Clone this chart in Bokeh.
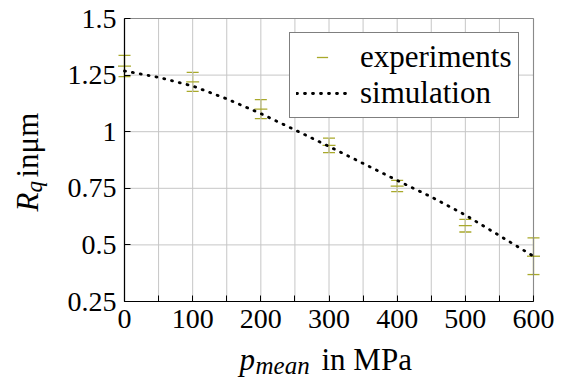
import numpy as np
from bokeh.plotting import figure
from bokeh.models import (Whisker, ColumnDataSource, Label, Legend, LegendItem,
                          FixedTicker, Range1d, TeeHead, BoxAnnotation)
from bokeh.embed import file_html
from bokeh.resources import INLINE

# ---- data ----
pressure = [0, 100, 200, 300, 400, 500, 600]
rq_exp = [1.29, 1.22, 1.10, 0.94, 0.76, 0.585, 0.45]
rq_err = [0.047, 0.042, 0.042, 0.032, 0.025, 0.028, 0.081]

sim_p = [0, 50, 100, 150, 200, 250, 300, 350, 400, 450, 500, 550, 600]
sim_rq = [1.268, 1.24, 1.202, 1.145, 1.08, 1.008, 0.935, 0.86, 0.785, 0.712, 0.632, 0.541, 0.45]

x_ticks = [0, 100, 200, 300, 400, 500, 600]
x_minor = [50, 150, 250, 350, 450, 550]
y_ticks = [0.25, 0.5, 0.75, 1.0, 1.25, 1.5]
y_tick_labels = ["0.25", "0.5", "0.75", "1", "1.25", "1.5"]

X0, X1 = 0, 600
Y0, Y1 = 0.25, 1.5

OLIVE = "#a9a92a"
GRID = "#c6c6c6"
FONT = "'Liberation Serif', serif"

# plot-box position in page pixels, and figure origin/size on the page
FL, FR, FT, FB = 125, 534, 20, 303
OX, OY = 1, 2
W, H = 558, 378

# the frame covers the whole canvas, so that the axis-label texts are inside it
sx_ = (X1 - X0) / (FR - FL)
sy_ = (Y1 - Y0) / (FB - FT)
xr = Range1d(X0 + (OX - FL) * sx_, X0 + (OX + W - FL) * sx_)
yr = Range1d(Y1 - (OY + H - FT) * sy_, Y1 - (OY - FT) * sy_)

p = figure(width=W, height=H, x_range=xr, y_range=yr,
           output_backend="svg", toolbar_location=None, min_border=0)
p.background_fill_color = "white"
p.border_fill_color = "white"
p.outline_line_color = None
p.grid.visible = False

# grid lines at the tick positions
gx = x_ticks + x_minor
p.segment(x0=gx, y0=[Y0] * len(gx), x1=gx, y1=[Y1] * len(gx),
          line_color=GRID, line_width=1)
p.segment(x0=[X0] * len(y_ticks), y0=y_ticks, x1=[X1] * len(y_ticks), y1=y_ticks,
          line_color=GRID, line_width=1)

# axes placed at the plot-box edges
p.xaxis.fixed_location = Y0
p.yaxis.fixed_location = X0
p.xaxis.bounds = (X0, X1)
p.yaxis.bounds = (Y0, Y1)
p.xaxis.ticker = FixedTicker(ticks=x_ticks, minor_ticks=x_minor)
p.yaxis.ticker = FixedTicker(ticks=y_ticks)
p.yaxis.major_label_overrides = {t: l for t, l in zip(y_ticks, y_tick_labels)}
for ax in (p.xaxis[0], p.yaxis[0]):
    ax.major_label_text_font = FONT
    ax.major_label_text_font_size = "28px"
    ax.major_label_text_color = "black"
    ax.major_tick_in = 6
    ax.major_tick_out = 0
    ax.minor_tick_in = 6
    ax.minor_tick_out = 0
    ax.major_tick_line_color = "black"
    ax.minor_tick_line_color = "black"
    ax.axis_line_color = "black"
    ax.axis_line_width = 1.2
    ax.major_label_standoff = 8
p.yaxis.minor_tick_line_color = None

# plot box
p.add_layout(BoxAnnotation(left=X0, right=X1, bottom=Y0, top=Y1,
                           fill_alpha=0, line_color="black", line_width=1.2))

# error bars
src = ColumnDataSource(dict(
    x=pressure, y=rq_exp,
    upper=[v + e for v, e in zip(rq_exp, rq_err)],
    lower=[v - e for v, e in zip(rq_exp, rq_err)],
))
wh = Whisker(base="x", upper="upper", lower="lower", source=src,
             line_color=OLIVE, line_width=1.3,
             upper_head=TeeHead(size=12, line_color=OLIVE, line_width=1.3),
             lower_head=TeeHead(size=12, line_color=OLIVE, line_width=1.3))
p.add_layout(wh)
sc = p.scatter("x", "y", source=src, marker="dash", size=13,
               line_color=OLIVE, line_width=1.3)

ln = p.line(sim_p, sim_rq, line_color="black", line_width=2.8,
            line_dash="1 7", line_cap="round")

# legend: bottom-left corner given in canvas pixels from the bottom-left
LEG_L, LEG_B = 290, 120
legend = Legend(items=[LegendItem(label="experiments", renderers=[sc]),
                       LegendItem(label="simulation", renderers=[ln])],
                location=(LEG_L - OX, OY + H - LEG_B), padding=6, spacing=0,
                glyph_width=52, glyph_height=28, label_height=28,
                label_standoff=12,
                label_text_font=FONT, label_text_font_size="31px",
                label_text_color="black",
                border_line_color="black", border_line_width=1.2,
                background_fill_color="white", background_fill_alpha=1.0)
p.add_layout(legend)


# axis labels composed of pieces (page px -> data coords)
def dx(px):
    return X0 + (px - FL) * sx_


def dy(py):
    return Y1 - (py - FT) * sy_


BASE_SHIFT = 0.33  # measured offset of the rendered baseline, in font sizes


def lab(px, py, text, size, italic=False, angle=0.0):
    # px/py give the wanted baseline start on the page
    if angle:
        px -= BASE_SHIFT * size
    else:
        py -= BASE_SHIFT * size
    p.add_layout(Label(x=dx(px), y=dy(py), text=text, text_font=FONT,
                       text_font_size=f"{size}px",
                       text_font_style="italic" if italic else "normal",
                       text_color="black", angle=angle,
                       text_align="left", text_baseline="alphabetic"))


# x label: p_mean in MPa
lab(240, 371, "p", 31, italic=True)
lab(256, 375, "mean", 25, italic=True)
lab(322, 371, "in MPa", 31)

# y label: R_q inμm (rotated)
A = np.pi / 2
lab(38, 213, "R", 31, italic=True, angle=A)
lab(43, 194, "q", 23, italic=True, angle=A)
lab(38, 179, "inμm", 31, angle=A)

open("out.html", "w").write(file_html(p, INLINE))
